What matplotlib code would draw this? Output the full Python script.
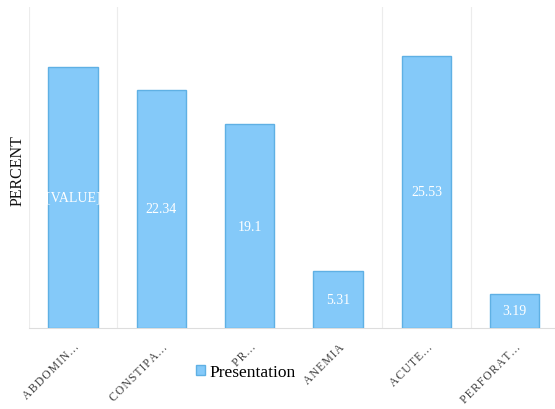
import matplotlib
matplotlib.use("Agg")
import matplotlib.pyplot as plt
import numpy as np

categories = ["ABDOMIN...", "CONSTIPA...", "PR...", "ANEMIA", "ACUTE...", "PERFORAT..."]
values = [24.47, 22.34, 19.1, 5.31, 25.53, 3.19]
value_labels = ["[VALUE]", "22.34", "19.1", "5.31", "25.53", "3.19"]
series_name = "Presentation"

plt.rcParams['font.family'] = ['Liberation Serif', 'DejaVu Serif']

fig = plt.figure(figsize=(5.55, 4.1), dpi=100)
ax = fig.add_axes([0.052, 0.1976, 0.955, 0.783])

x = np.arange(len(categories))
bars = ax.bar(x, values, width=0.56, color='#84C9F9', edgecolor='#5FB0E4',
              linewidth=1.0, label=series_name, zorder=3)

for b, lab in zip(bars, value_labels):
    ax.text(b.get_x() + b.get_width() / 2, b.get_height() / 2, lab,
            ha='center', va='center', color='white', fontsize=10, zorder=4)

ax.set_xlim(-0.5, 5.5)
ax.set_ylim(0, 30.1)

for gx in [-0.5, 0.5, 3.5, 4.5]:
    ax.axvline(gx, color='#ECECEC', linewidth=0.8, zorder=1)

for s in ['top', 'right', 'left']:
    ax.spines[s].set_visible(False)
ax.spines['bottom'].set_color('#DDDDDD')
ax.spines['bottom'].set_linewidth(0.8)

spaced = ["\u200a".join(c) for c in categories]
ax.set_yticks([])
ax.set_xticks(x)
ax.set_xticklabels(spaced, rotation=45, ha='right', va='top',
                   rotation_mode='anchor', fontsize=8.5, color='#404040')
ax.tick_params(axis='x', length=0, pad=9)

fig.text(0.032, 0.585, "PERCENT", rotation=90, ha='center', va='center',
         fontsize=11.5, color='#111111')

leg = fig.legend(handles=[bars], labels=[series_name], loc='center',
                 bbox_to_anchor=(0.443, 0.09), frameon=False, fontsize=12.5,
                 handlelength=0.5, handleheight=0.5, handletextpad=0.25)

fig.savefig("out.png", dpi=100)
